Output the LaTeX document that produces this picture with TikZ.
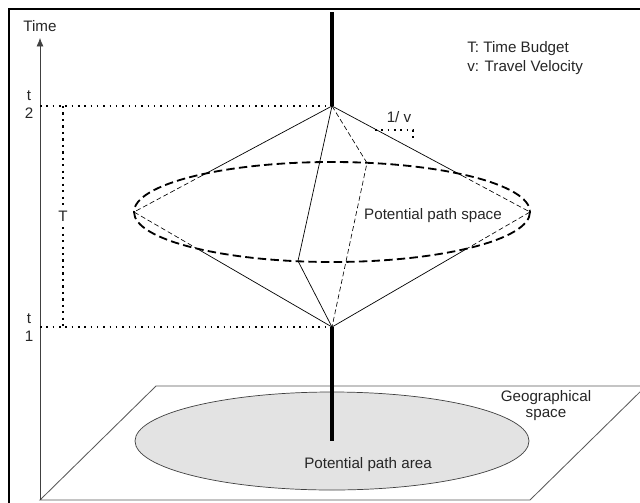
\documentclass[tikz,border=0pt]{standalone}
\usepackage{fontspec}
\setmainfont{Liberation Sans}
\usetikzlibrary{calc,arrows.meta,positioning}

\tikzset{
  lbl/.style={font=\fontsize{10.8}{13}\selectfont, inner sep=0pt, text=black!85},
  cone/.style={line width=0.5pt},
  hidden/.style={line width=0.45pt, dash pattern=on 3.5pt off 2pt},
  rim/.style={line width=1.3pt, dash pattern=on 6pt off 3pt},
  level/.style={line width=1.1pt, dash pattern=on 1.1pt off 3.4pt},
  span/.style={line width=1.6pt, dash pattern=on 1.6pt off 3pt},
  pole/.style={line width=2.8pt},
}

\begin{document}
\begin{tikzpicture}[x=0.025cm, y=-0.025cm]
  \useasboundingbox (0,0) rectangle (640,502);
  \clip (0,0) rectangle (640,502);

  % frame
  \draw[line width=1.4pt] (9,510) -- (9,9) -- (650,9);

  % geographical space
  \coordinate (p1) at (40,500);
  \coordinate (p2) at (156,386);
  \coordinate (p3) at (646,386);
  \coordinate (p4) at (530,500);
  \draw[black!65, line width=0.6pt] (p1) -- (p2) -- (p3) -- (p4) -- cycle;
  \coordinate (area) at (332,441);
  \draw[black!75, fill=black!11, line width=0.5pt] (area) ellipse [x radius=197, y radius=49];
  \node[lbl] (arealbl) at (368,465) {Potential path area};
  \node[lbl, align=center, font=\fontsize{10.8}{11.4}\selectfont] (geo) at (546,406) {Geographical\\space};

  % time axis
  \coordinate (axtop) at (40,38);
  \draw[black!75, line width=0.5pt, -{Latex[length=6pt,width=5pt]}] (p1) -- (axtop);
  \node[lbl] (time) at (40,26) {Time};

  % t1, t2 and T
  \coordinate (t2) at (40,106);
  \coordinate (t1) at (40,327);
  \coordinate (apex2) at (332,106);
  \coordinate (apex1) at (332,327);
  \node[lbl, align=center, font=\fontsize{10.8}{12.8}\selectfont] (t2lbl) at (29,105) {t\\2};
  \node[lbl, align=center, font=\fontsize{10.8}{12.8}\selectfont] (t1lbl) at (29,328) {t\\1};
  \draw[level] (t2) -- (apex2);
  \draw[level] (t1) -- (apex1);
  \coordinate (s2) at (63,106);
  \coordinate (s1) at (63,327);
  \node[lbl, inner sep=4pt] (T) at (63,216) {T};
  \draw[span] (s2) -- (T);
  \draw[span] (T) -- (s1);

  % prism
  \coordinate (L) at (134,212);
  \coordinate (R) at (530,212);
  \coordinate (B) at (367,163);
  \coordinate (F) at (298,261);
  \coordinate (uL) at ($(apex2)!0.657!(L)$);
  \coordinate (uR) at ($(apex2)!0.657!(R)$);
  \coordinate (dL) at ($(apex1)!0.682!(L)$);
  \coordinate (dR) at ($(apex1)!0.682!(R)$);
  \draw[rim] (332,212) ellipse [x radius=198, y radius=50];
  \draw[cone] (apex2) -- (uL);
  \draw[cone] (apex2) -- (uR);
  \draw[cone] (apex1) -- (dL);
  \draw[cone] (apex1) -- (dR);
  \draw[hidden] (uL) -- (L) -- (dL);
  \draw[hidden] (uR) -- (R) -- (dR);
  \draw[cone] (apex2) -- (F) -- (apex1);
  \draw[hidden] (apex2) -- (B) -- (apex1);
  \node[lbl] (ppspace) at (433,216) {Potential path space};

  % poles
  \coordinate (poletop) at (332,12);
  \draw[pole] (poletop) -- (apex2);
  \draw[pole] (apex1) -- (area);

  % slope 1/v
  \node[lbl] (slope) at (399,117) {1/ v};
  \coordinate (k1) at (375,130);
  \coordinate (k2) at (413,130);
  \coordinate (k3) at (413,141);
  \draw[level, line width=1pt] (k1) -- (k2) -- (k3);

  % legend
  \node[lbl, anchor=west, align=left, font=\fontsize{10.8}{13.5}\selectfont] (legend) at (467,58) {T: Time Budget\\v: Travel Velocity};
\end{tikzpicture}
\end{document}
